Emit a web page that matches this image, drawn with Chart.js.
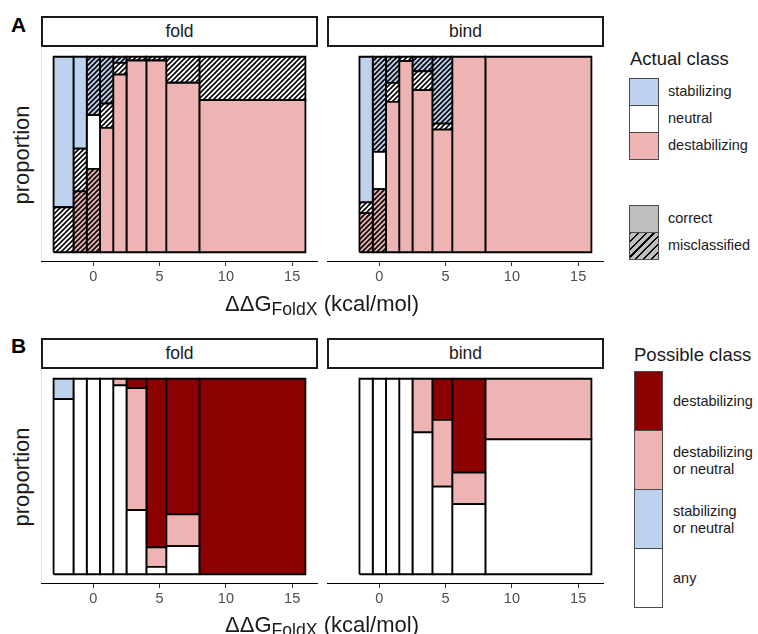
<!DOCTYPE html>
<html><head><meta charset="utf-8">
<script src="https://cdn.jsdelivr.net/npm/chart.js@4.4.1/dist/chart.umd.min.js"></script>
<style>
html,body{margin:0;padding:0;background:#fff;}
body{width:758px;height:634px;position:relative;overflow:hidden;font-family:"Liberation Sans",Arial,sans-serif;color:#1a1a1a;}
.strip{position:absolute;box-sizing:border-box;border:2px solid #1a1a1a;background:#fff;font-size:17.5px;text-align:center;line-height:27px;height:31px;width:277px;}
.tag{position:absolute;font-weight:bold;font-size:21px;line-height:20px;color:#000;}
.ytitle{position:absolute;font-size:22px;line-height:24px;width:200px;text-align:center;transform:rotate(-90deg);}
.xtitle{position:absolute;font-size:22px;line-height:25px;width:400px;text-align:center;}
.xtitle sub{font-size:0.8em;vertical-align:-0.25em;line-height:0;}
.ltitle{position:absolute;font-size:18.5px;line-height:21px;white-space:nowrap;}
.key{position:absolute;box-sizing:border-box;border:1px solid #4d4d4d;}
.lab{position:absolute;font-size:14.5px;line-height:17px;white-space:nowrap;}
canvas{position:absolute;}
</style></head><body>

<div class="tag" style="left:11px;top:15px;">A</div>
<div class="tag" style="left:11px;top:336px;">B</div>

<div class="strip" style="left:41px;top:16px;">fold</div>
<div class="strip" style="left:327px;top:16px;">bind</div>
<div class="strip" style="left:41px;top:338px;">fold</div>
<div class="strip" style="left:327px;top:338px;">bind</div>

<div class="ytitle" style="left:-78px;top:143px;">proportion</div>
<div class="ytitle" style="left:-78px;top:465px;">proportion</div>

<canvas id="aFold" width="277" height="245" style="left:41px;top:47px;width:277px;height:245px;"></canvas>
<canvas id="aBind" width="277" height="245" style="left:327px;top:47px;width:277px;height:245px;"></canvas>
<canvas id="bFold" width="277" height="245" style="left:41px;top:369px;width:277px;height:245px;"></canvas>
<canvas id="bBind" width="277" height="245" style="left:327px;top:369px;width:277px;height:245px;"></canvas>

<div class="xtitle" style="left:122px;top:291px;">ΔΔG<sub>FoldX</sub> (kcal/mol)</div>
<div class="xtitle" style="left:122px;top:612px;">ΔΔG<sub>FoldX</sub> (kcal/mol)</div>

<!-- Legend A -->
<div class="ltitle" style="left:630px;top:48px;">Actual class</div>
<div class="key" style="left:629px;top:78px;width:30px;height:28px;background:#bcd2ee;"></div>
<div class="key" style="left:629px;top:105px;width:30px;height:28px;background:#ffffff;"></div>
<div class="key" style="left:629px;top:132px;width:30px;height:28px;background:#eeb4b4;"></div>
<div class="lab" style="left:668px;top:83px;">stabilizing</div>
<div class="lab" style="left:668px;top:110px;">neutral</div>
<div class="lab" style="left:668px;top:137px;">destabilizing</div>
<div class="key" style="left:629px;top:205px;width:30px;height:28px;background:#bebebe;"></div>
<div class="key" style="left:629px;top:232px;width:30px;height:28px;background:repeating-linear-gradient(-45deg,#bebebe 0px,#bebebe 4px,#000 4px,#000 5.5px);"></div>
<div class="lab" style="left:668px;top:210px;">correct</div>
<div class="lab" style="left:668px;top:237px;">misclassified</div>

<!-- Legend B -->
<div class="ltitle" style="left:634px;top:344px;">Possible class</div>
<div class="key" style="left:634px;top:371px;width:29px;height:60px;background:#8b0000;"></div>
<div class="key" style="left:634px;top:430px;width:29px;height:60px;background:#eeb4b4;"></div>
<div class="key" style="left:634px;top:489px;width:29px;height:60px;background:#bcd2ee;"></div>
<div class="key" style="left:634px;top:548px;width:29px;height:60px;background:#ffffff;"></div>
<div class="lab" style="left:673px;top:393px;">destabilizing</div>
<div class="lab" style="left:673px;top:444px;">destabilizing<br>or neutral</div>
<div class="lab" style="left:673px;top:503px;">stabilizing<br>or neutral</div>
<div class="lab" style="left:673px;top:570px;">any</div>

<script>
// ---- bins and axis ----
const binEdges = [-3, -1.5, -0.5, 0.5, 1.5, 2.5, 4, 5.5, 8, 16];
const xTicks = [0, 5, 10, 15];

// ---- Panel A, fold: proportion of each actual class per bin (bottom -> top) ----
const aFoldDestabCorrect  = [0, 0, 0, 0.636, 0.909, 0.981, 0.981, 0.867, 0.778];
const aFoldDestabMis      = [0, 0.311, 0.426, 0, 0, 0, 0, 0, 0];
const aFoldNeutralCorrect = [0, 0, 0.275, 0, 0, 0, 0, 0, 0];
const aFoldNeutralMis     = [0.23, 0.219, 0, 0.125, 0.06, 0.019, 0.019, 0.133, 0.222];
const aFoldStabCorrect    = [0.77, 0.47, 0, 0, 0, 0, 0, 0, 0];
const aFoldStabMis        = [0, 0, 0.299, 0.239, 0.031, 0, 0, 0, 0];

// ---- Panel A, bind ----
const aBindDestabCorrect  = [null, 0, 0, 0.769, 0.978, 0.829, 0.627, 1, 1];
const aBindDestabMis      = [null, 0.2, 0.323, 0, 0, 0, 0, 0, 0];
const aBindNeutralCorrect = [null, 0, 0.19, 0, 0, 0, 0, 0, 0];
const aBindNeutralMis     = [null, 0.055, 0, 0.097, 0.022, 0.097, 0.031, 0, 0];
const aBindStabCorrect    = [null, 0.745, 0, 0, 0, 0, 0, 0, 0];
const aBindStabMis        = [null, 0, 0.487, 0.134, 0, 0.074, 0.342, 0, 0];

// ---- Panel B, fold: possible class per bin (bottom -> top) ----
const bFoldAny        = [0.896, 1, 1, 1, 0.966, 0.328, 0.038, 0.144, 0];
const bFoldStabOrNeu  = [0.104, 0, 0, 0, 0, 0, 0, 0, 0];
const bFoldDestOrNeu  = [0, 0, 0, 0, 0.034, 0.624, 0.099, 0.162, 0];
const bFoldDestab     = [0, 0, 0, 0, 0, 0.048, 0.863, 0.694, 1];

// ---- Panel B, bind ----
const bBindAny        = [null, 1, 1, 1, 1, 0.726, 0.448, 0.359, 0.69];
const bBindStabOrNeu  = [null, 0, 0, 0, 0, 0, 0, 0, 0];
const bBindDestOrNeu  = [null, 0, 0, 0, 0, 0.274, 0.342, 0.161, 0.31];
const bBindDestab     = [null, 0, 0, 0, 0, 0, 0.21, 0.48, 0];

// ---- colours ----
const colStab = '#bcd2ee', colNeu = '#ffffff', colDest = '#eeb4b4', colDark = '#8b0000';

function hatch(bg){
  const n = 5;
  const c = document.createElement('canvas'); c.width = n; c.height = n;
  const g = c.getContext('2d');
  g.fillStyle = bg; g.fillRect(0,0,n,n);
  g.strokeStyle = '#000'; g.lineWidth = 1.6;
  g.beginPath();
  g.moveTo(-1,n+1); g.lineTo(n+1,-1);
  g.moveTo(-1,1); g.lineTo(1,-1);
  g.moveTo(n-1,n+1); g.lineTo(n+1,n-1);
  g.stroke();
  return g.createPattern(c, 'repeat');
}

function buildRects(layers){
  const ds = [];
  for (let i = 0; i < binEdges.length - 1; i++){
    let y = 0;
    for (const L of layers){
      const v = L.values[i];
      if (v == null || v <= 0) continue;
      const x0 = binEdges[i], x1 = binEdges[i+1], y0 = y, y1 = y + v;
      ds.push({
        data: [{x:x0,y:y0},{x:x1,y:y0},{x:x1,y:y1},{x:x0,y:y1},{x:x0,y:y0}],
        showLine: true, fill: 'shape', backgroundColor: L.fill,
        borderColor: '#000', borderWidth: 1.8, pointRadius: 0, pointHoverRadius: 0,
        tension: 0, borderJoinStyle: 'miter'
      });
      y = y1;
    }
  }
  return ds;
}

function makeChart(id, datasets, showY){
  return new Chart(document.getElementById(id), {
    type: 'scatter',
    data: { datasets },
    options: {
      responsive: false, animation: false, devicePixelRatio: 1,
      layout: { padding: 0 },
      events: [],
      plugins: { legend: { display: false }, tooltip: { enabled: false } },
      scales: {
        x: {
          type: 'linear', min: -3.95, max: 16.95,
          afterBuildTicks: s => { s.ticks = xTicks.map(v => ({ value: v })); },
          afterFit: s => { s.height = 30; },
          grid: { display: true, drawOnChartArea: false, drawTicks: true, tickLength: 4, color: '#333', lineWidth: 1 },
          border: { display: true, color: '#000', width: 1.1 },
          ticks: { color: '#4d4d4d', font: { size: 14.5, family: 'Liberation Sans' }, padding: 2, maxRotation: 0, autoSkip: false }
        },
        y: {
          type: 'linear', min: -0.05, max: 1.05, display: true,
          afterFit: s => { s.width = 0; },
          grid: { display: false },
          border: { display: showY, color: '#000', width: 1.1 },
          ticks: { display: false }
        }
      }
    }
  });
}

const aLayers = (dc, dm, nc, nm, sc, sm) => [
  { values: dc, fill: colDest }, { values: dm, fill: hatch(colDest) },
  { values: nc, fill: colNeu },  { values: nm, fill: hatch(colNeu) },
  { values: sc, fill: colStab }, { values: sm, fill: hatch(colStab) }
];
const bLayers = (any, sn, dn, d) => [
  { values: any, fill: colNeu }, { values: sn, fill: colStab },
  { values: dn, fill: colDest }, { values: d, fill: colDark }
];

makeChart('aFold', buildRects(aLayers(aFoldDestabCorrect, aFoldDestabMis, aFoldNeutralCorrect, aFoldNeutralMis, aFoldStabCorrect, aFoldStabMis)), true);
makeChart('aBind', buildRects(aLayers(aBindDestabCorrect, aBindDestabMis, aBindNeutralCorrect, aBindNeutralMis, aBindStabCorrect, aBindStabMis)), false);
makeChart('bFold', buildRects(bLayers(bFoldAny, bFoldStabOrNeu, bFoldDestOrNeu, bFoldDestab)), true);
makeChart('bBind', buildRects(bLayers(bBindAny, bBindStabOrNeu, bBindDestOrNeu, bBindDestab)), false);
</script>
</body></html>
